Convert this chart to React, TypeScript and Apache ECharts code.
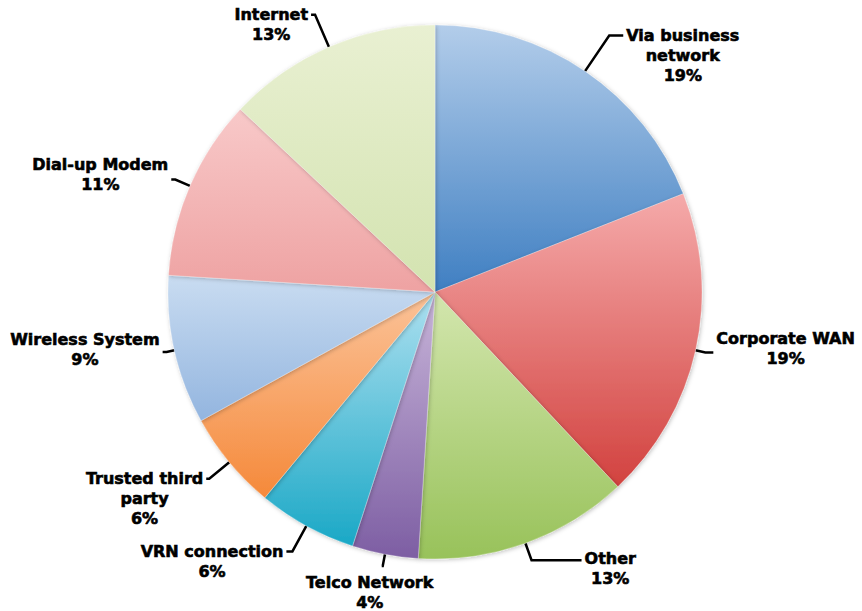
import React, { useEffect, useRef } from "react";
import * as echarts from "echarts";

const categories = [
  "Via business\nnetwork",
  "Corporate WAN",
  "Other",
  "Telco Network",
  "VRN connection",
  "Trusted third\nparty",
  "Wireless System",
  "Dial-up Modem",
  "Internet",
];
const values = [19, 19, 13, 4, 6, 6, 9, 11, 13];

const lightColors = ["#b3cdea", "#f5aaaa", "#d3e6ae", "#c8b5d9", "#aee0f0", "#fbc399", "#c9dcf1", "#f8c9c9", "#e9f0d2"];
const darkColors = ["#3f7fc2", "#d2423f", "#98c25a", "#7d5ea3", "#1aa8c6", "#f5893a", "#93b5df", "#eea2a2", "#d3e3b0"];
const lineLen = [43, 10, 18, 12, 29, 26, 8, 16, 35];
const lineLen2 = [14, 8, 50, 1, 6, 3, 4, 4, 4];
const labelDy = [20, -4, 8, 0, 10, 20, -2, -5, 10];
const BELOW_INDEX = 3;

export default function App() {
  const ref = useRef<HTMLDivElement>(null);
  useEffect(() => {
    if (!ref.current) return;
    const chart = echarts.init(ref.current, null, { renderer: "svg" });
    const data = categories.map((name, i) => ({
      name,
      value: values[i],
      itemStyle: {
        color: new echarts.graphic.LinearGradient(0, 0, 0, 1, [
          { offset: 0, color: lightColors[i] },
          { offset: 1, color: darkColors[i] },
        ]),
      },
      labelLine: { length: lineLen[i], length2: lineLen2[i] },
    }));
    chart.setOption({
      animation: false,
      backgroundColor: "#ffffff",
      series: [
        {
          type: "pie",
          center: [435, 292],
          radius: 267,
          startAngle: 90,
          clockwise: true,
          avoidLabelOverlap: false,
          percentPrecision: 0,
          data,
          itemStyle: {
            borderColor: "rgba(255,255,255,0.5)",
            borderWidth: 0.5,
            shadowBlur: 4,
            shadowColor: "rgba(0,0,0,0.25)",
            shadowOffsetX: 1,
            shadowOffsetY: 1,
          },
          label: {
            show: true,
            position: "outside",
            distanceToLabelLine: 3,
            formatter: (p: any) => `{t|${p.name}\n${Math.round(p.percent)}%}`,
            rich: {
              t: {
                fontFamily: "DejaVu Sans",
                fontWeight: "bold",
                fontSize: 16,
                lineHeight: 20,
                color: "#000",
                align: "center",
                textBorderColor: "#000",
                textBorderWidth: 0.6,
              },
            },
          },
          labelLine: {
            show: true,
            lineStyle: { color: "#000", width: 2.5 },
          },
          labelLayout: (p: any) => {
            const i = p.dataIndex;
            const pts = p.labelLinePoints;
            if (i === BELOW_INDEX && pts && pts.length) {
              const end = pts[pts.length - 1];
              return {
                x: end[0] - 12,
                y: end[1] + 6,
                align: "center",
                verticalAlign: "top",
                labelLinePoints: pts,
              };
            }
            return { dy: labelDy[i], labelLinePoints: pts };
          },
        },
      ],
    });
    return () => chart.dispose();
  }, []);
  return (
    <div
      ref={ref}
      style={{ position: "fixed", left: 0, top: 0, width: 862, height: 611 }}
    />
  );
}
